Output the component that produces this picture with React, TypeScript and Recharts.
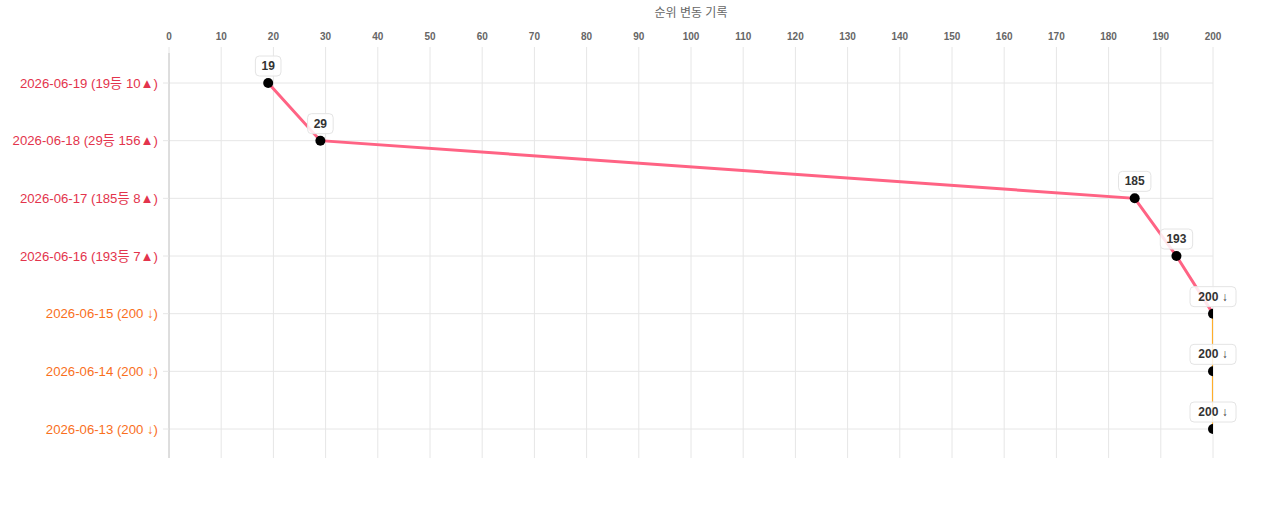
import { LineChart, Line, XAxis, YAxis, CartesianGrid, LabelList } from "recharts";

// newest day first, as in the rank history list
const dates = ["2026-06-19", "2026-06-18", "2026-06-17", "2026-06-16", "2026-06-15", "2026-06-14", "2026-06-13"];
const ranks = [19, 29, 185, 193, 200, 200, 200];
const trends = ["up", "up", "up", "up", "down", "down", "down"];
const dateLabels = [
  "2026-06-19 (19등 10▲)",
  "2026-06-18 (29등 156▲)",
  "2026-06-17 (185등 8▲)",
  "2026-06-16 (193등 7▲)",
  "2026-06-15 (200 ↓)",
  "2026-06-14 (200 ↓)",
  "2026-06-13 (200 ↓)",
];
const pointLabels = ["19", "29", "185", "193", "200 ↓", "200 ↓", "200 ↓"];
const rankTicks = [0, 10, 20, 30, 40, 50, 60, 70, 80, 90, 100, 110, 120, 130, 140, 150, 160, 170, 180, 190, 200];

const FONT = '"Liberation Sans", Arial, "Noto Sans CJK KR", sans-serif';
const UP_COLOR = "#e3344c";
const DOWN_COLOR = "#f96f1d";

const data = dates.map((date, i) => ({
  date,
  rank: ranks[i],
  tag: pointLabels[i],
  // a segment is pink when it leads out of a rising day, orange between fallen days
  rise: trends[i] === "up" || trends[i - 1] === "up" ? ranks[i] : null,
  flat: trends[i] === "down" ? ranks[i] : null,
}));

function DateTick(props: any) {
  const { x, y, payload } = props;
  const i = dates.indexOf(payload.value);
  const color = trends[i] === "up" ? UP_COLOR : DOWN_COLOR;
  return (
    <text x={x} y={y} dy={4.5} textAnchor="end" fill={color} fontSize={13.2} fontFamily={FONT}>
      {dateLabels[i]}
    </text>
  );
}

function RankTag(props: any) {
  const { x, y, value } = props;
  if (x == null || y == null) return null;
  const text = String(value);
  const w = text.length * 6.8 + 12;
  const h = 20;
  const cy = y - 17;
  return (
    <g>
      <rect
        x={x - w / 2}
        y={cy - h / 2}
        width={w}
        height={h}
        rx={4}
        ry={4}
        fill="rgba(255,255,255,0.85)"
        stroke="#e4e4e4"
        strokeWidth={1}
      />
      <text x={x} y={cy} dy={4} textAnchor="middle" fill="#333" fontSize={12} fontWeight="bold" fontFamily={FONT}>
        {text}
      </text>
    </g>
  );
}

export default function App() {
  return (
    <div style={{ position: "absolute", left: 0, top: 0, width: 1280, height: 510, fontFamily: FONT }}>
      <div
        style={{
          position: "absolute",
          left: 169,
          width: 1044,
          top: 5,
          lineHeight: "16px",
          textAlign: "center",
          fontSize: 12,
          color: "#666",
        }}
      >
        순위 변동 기록
      </div>
      <LineChart
        width={1280}
        height={510}
        data={data}
        layout="vertical"
        margin={{ top: 23, right: 67, bottom: 52, left: 0 }}
      >
        <CartesianGrid stroke="#e6e6e6" syncWithTicks />
        <XAxis
          type="number"
          orientation="top"
          domain={[0, 200]}
          ticks={rankTicks}
          interval={0}
          allowDataOverflow
          height={30}
          axisLine={false}
          tickLine={{ stroke: "#e6e6e6" }}
          tickSize={6}
          tickMargin={7}
          tick={{ fontSize: 10, fill: "#666", fontWeight: "bold", fontFamily: FONT }}
        />
        <YAxis
          type="category"
          dataKey="date"
          scale="point"
          padding={{ top: 30, bottom: 29 }}
          interval={0}
          width={169}
          axisLine={{ stroke: "#c8c8c8" }}
          tickLine={{ stroke: "#e6e6e6" }}
          tickSize={6}
          tickMargin={5}
          tick={<DateTick />}
        />
        <Line dataKey="flat" stroke="#ffae2b" strokeWidth={2.2} dot={false} activeDot={false} isAnimationActive={false} />
        <Line dataKey="rise" stroke="#ff6384" strokeWidth={3} dot={false} activeDot={false} isAnimationActive={false} />
        <Line
          dataKey="rank"
          stroke="none"
          dot={{ r: 5, fill: "#000", stroke: "#000", strokeWidth: 0 }}
          activeDot={false}
          isAnimationActive={false}
        >
          <LabelList dataKey="tag" content={<RankTag />} />
        </Line>
      </LineChart>
    </div>
  );
}
